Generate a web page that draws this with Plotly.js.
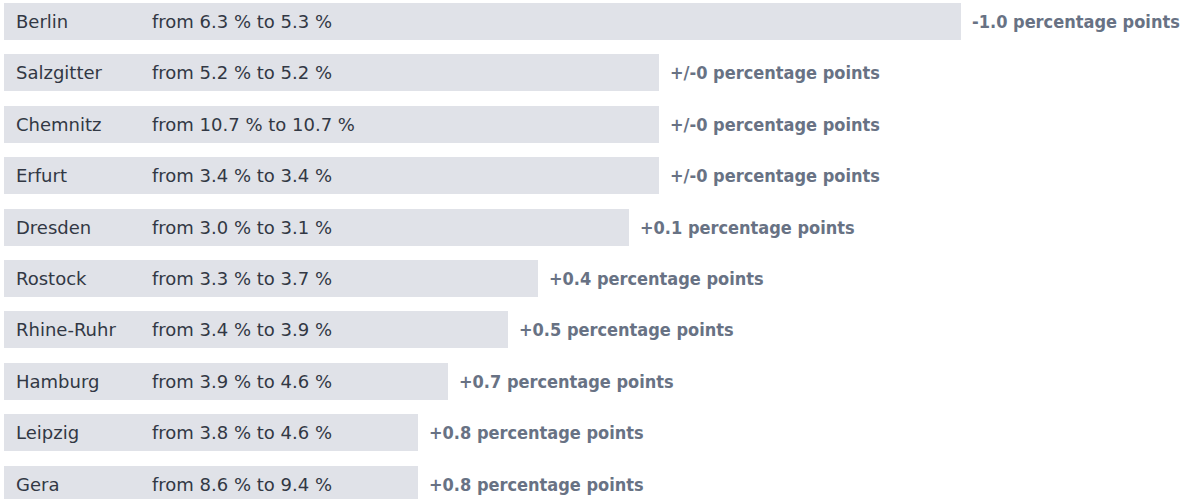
<!DOCTYPE html>
<html>
<head>
<meta charset="utf-8">
<script src="https://cdn.plot.ly/plotly-3.0.1.min.js"></script>
<style>
html,body{margin:0;padding:0;background:#ffffff;}
#chart{width:1192px;height:499px;}
</style>
</head>
<body>
<div id="chart"></div>
<script>
// Data
var cities = ["Berlin","Salzgitter","Chemnitz","Erfurt","Dresden","Rostock","Rhine-Ruhr","Hamburg","Leipzig","Gera"];
var fromPct = [6.3, 5.2, 10.7, 3.4, 3.0, 3.3, 3.4, 3.9, 3.8, 8.6];
var toPct   = [5.3, 5.2, 10.7, 3.4, 3.1, 3.7, 3.9, 4.6, 4.6, 9.4];
var changePP = [-1.0, 0.0, 0.0, 0.0, 0.1, 0.4, 0.5, 0.7, 0.8, 0.8];
// bar lengths (arbitrary units)
var barLength = [3.17, 2.17, 2.17, 2.17, 2.07, 1.77, 1.67, 1.47, 1.37, 1.37];

function fmtChange(c){
  if (Math.abs(c) < 1e-9) return "+/-0 percentage points";
  return (c > 0 ? "+" : "-") + Math.abs(c).toFixed(1) + " percentage points";
}

var idx = cities.map(function(_, i){ return i; });

var trace = {
  type: "bar",
  orientation: "h",
  y: idx,
  x: barLength,
  width: 0.72,
  marker: {color: "#e0e2e8", line: {width: 0}},
  hoverinfo: "skip"
};

var annotations = [];
var labelFont = {family: "DejaVu Sans, Arial, sans-serif", size: 18, color: "#323844"};
var changeFont = {family: "DejaVu Sans Condensed, Liberation Sans Narrow, DejaVu Sans, sans-serif", size: 18, color: "#687284", weight: "bold"};
cities.forEach(function(c, i){
  annotations.push({x: 0, y: i, xref: "x", yref: "y", text: c, showarrow: false,
    xanchor: "left", yanchor: "middle", xshift: 10, font: labelFont});
  annotations.push({x: 0, y: i, xref: "x", yref: "y",
    text: "from " + fromPct[i].toFixed(1) + " % to " + toPct[i].toFixed(1) + " %",
    showarrow: false, xanchor: "left", yanchor: "middle", xshift: 146, font: labelFont});
  annotations.push({x: barLength[i], y: i, xref: "x", yref: "y",
    text: "<b>" + fmtChange(changePP[i]) + "</b>", showarrow: false,
    xanchor: "left", yanchor: "middle", xshift: 9, font: changeFont});
});

var layout = {
  width: 1192, height: 499,
  margin: {l: 0, r: 0, t: 0, b: 0},
  paper_bgcolor: "#ffffff", plot_bgcolor: "#ffffff",
  showlegend: false,
  xaxis: {range: [-0.013, 3.934], visible: false, fixedrange: true},
  yaxis: {range: [9.29, -0.418], visible: false, fixedrange: true},
  annotations: annotations,
  bargap: 0
};

Plotly.newPlot("chart", [trace], layout, {displayModeBar: false, staticPlot: true});
</script>
</body>
</html>
